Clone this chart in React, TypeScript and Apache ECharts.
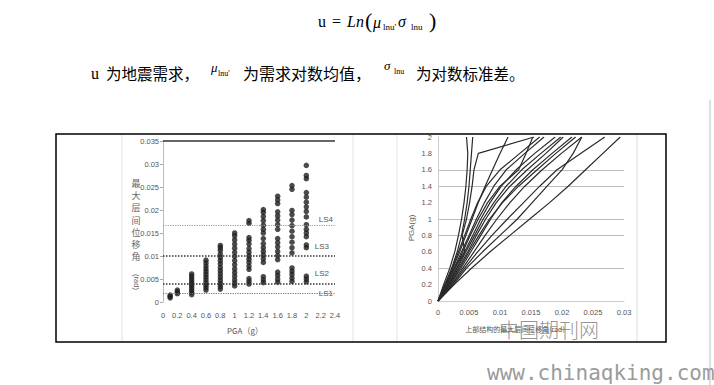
import React, { useEffect, useRef } from "react";
import * as echarts from "echarts";

// ---- Left chart: max inter-storey drift vs PGA (scatter) ----
const scatterPGA = [0.1, 0.2, 0.4, 0.6, 0.8, 1.0, 1.2, 1.4, 1.6, 1.8, 2.0];
const scatterDrift: number[][] = [
  [0.0009, 0.0012, 0.0015],
  [0.0018, 0.0022, 0.0026],
  [0.0016, 0.0021, 0.0026, 0.0031, 0.0036, 0.0041, 0.0046, 0.0051, 0.0056, 0.0061],
  [0.0026, 0.0031, 0.0036, 0.0042, 0.0048, 0.0054, 0.006, 0.0066, 0.0072, 0.0078, 0.0085, 0.0091],
  [0.0028, 0.0034, 0.004, 0.0047, 0.0054, 0.0061, 0.0068, 0.0075, 0.0083, 0.009, 0.0097, 0.0104, 0.0112, 0.0118, 0.0123],
  [0.0035, 0.0041, 0.0048, 0.0056, 0.0064, 0.0072, 0.0081, 0.009, 0.0099, 0.0108, 0.0117, 0.0126, 0.0135, 0.0144, 0.015],
  [0.0039, 0.0045, 0.0051, 0.0071, 0.0078, 0.0086, 0.0093, 0.01, 0.0108, 0.0116, 0.0126, 0.0134, 0.014, 0.0171, 0.0177],
  [0.0042, 0.0048, 0.0055, 0.0086, 0.0094, 0.0102, 0.011, 0.0118, 0.0127, 0.0138, 0.015, 0.0158, 0.0167, 0.0177, 0.0186, 0.0195, 0.0201],
  [0.0043, 0.005, 0.0058, 0.0065, 0.0092, 0.0101, 0.011, 0.012, 0.0129, 0.0138, 0.0158, 0.0168, 0.0178, 0.0187, 0.0196, 0.0214, 0.0222, 0.023],
  [0.0045, 0.0052, 0.006, 0.0067, 0.0074, 0.0107, 0.0118, 0.013, 0.0142, 0.0154, 0.0166, 0.0178, 0.019, 0.0199, 0.0245, 0.0253],
  [0.0044, 0.005, 0.0056, 0.0118, 0.0124, 0.0142, 0.015, 0.0158, 0.0168, 0.0185, 0.0197, 0.0207, 0.0217, 0.0228, 0.0238, 0.0268, 0.0275, 0.0297],
];
const limitNames = ["LS1", "LS2", "LS3", "LS4"];
const limitValues = [0.0018, 0.004, 0.01, 0.0167];
const leftTop = 0.035;

// ---- Right chart: IDA curves (drift, PGA) ----
const idaPGA = [0, 0.2, 0.4, 0.6, 0.8, 1.0, 1.2, 1.4, 1.6, 1.8, 2.0];
const idaDrift: number[][] = [
  [0, 0.0009, 0.0019, 0.0027, 0.0033, 0.0038, 0.0042, 0.0045, 0.0047, 0.0048, 0.0046],
  [0, 0.0011, 0.0022, 0.0031, 0.0038, 0.0043, 0.0047, 0.005, 0.0052, 0.0054, 0.0056],
  [0, 0.0014, 0.0026, 0.0043, 0.0039, 0.0046, 0.0051, 0.0055, 0.0058, 0.0065, 0.0155],
  [0, 0.0012, 0.0024, 0.0035, 0.0045, 0.0055, 0.0065, 0.0076, 0.0088, 0.01, 0.0113],
  [0, 0.0015, 0.0028, 0.004, 0.0052, 0.0065, 0.008, 0.01, 0.013, 0.0142, 0.0153],
  [0, 0.0013, 0.0026, 0.0038, 0.005, 0.0062, 0.0075, 0.009, 0.011, 0.014, 0.0171],
  [0, 0.0016, 0.003, 0.0043, 0.0056, 0.0069, 0.0084, 0.0102, 0.0126, 0.0156, 0.0189],
  [0, 0.0018, 0.0033, 0.0048, 0.0062, 0.0077, 0.0094, 0.0116, 0.0144, 0.0174, 0.0202],
  [0, 0.002, 0.0037, 0.0053, 0.0069, 0.0085, 0.0103, 0.0126, 0.0153, 0.0184, 0.0216],
  [0, 0.0022, 0.004, 0.0058, 0.0076, 0.0095, 0.0116, 0.014, 0.0168, 0.0199, 0.0232],
  [0, 0.0023, 0.0043, 0.0064, 0.0087, 0.0112, 0.0138, 0.0164, 0.0192, 0.023, 0.0269],
  [0, 0.0026, 0.0054, 0.0084, 0.0116, 0.0148, 0.018, 0.021, 0.0238, 0.0266, 0.0294],
  [0, 0.0017, 0.0031, 0.0045, 0.0059, 0.0073, 0.009, 0.011, 0.0135, 0.0166, 0.0198],
  [0, 0.0012, 0.0023, 0.0033, 0.0043, 0.0053, 0.0064, 0.0078, 0.01, 0.0132, 0.0164],
  [0, 0.0019, 0.0035, 0.005, 0.0066, 0.0083, 0.0104, 0.013, 0.016, 0.019, 0.0222],
  [0, 0.0025, 0.0046, 0.0072, 0.01, 0.0128, 0.0152, 0.0176, 0.02, 0.0218, 0.0232],
];

const serif = "Liberation Serif, DejaVu Serif, serif";
const cjk = "Noto Sans CJK SC, sans-serif";
const narrow = "Liberation Sans Narrow, Liberation Sans, sans-serif";

type TxtOpts = { fill?: string; family?: string; italic?: boolean; align?: string; v?: string; rot?: number; weight?: string | number; lh?: number };
const txt = (text: string, x: number, y: number, size: number, o: TxtOpts = {}) => ({
  type: "text",
  x,
  y,
  rotation: o.rot || 0,
  z: 20,
  style: {
    text,
    fill: o.fill || "#000",
    fontSize: size,
    fontFamily: o.family || serif,
    fontStyle: o.italic ? "italic" : "normal",
    fontWeight: o.weight || "normal",
    align: o.align || "left",
    verticalAlign: o.v || "middle",
    lineHeight: o.lh,
  },
});
const vline = (x: number, y1: number, y2: number, color: string, w = 1) => ({
  type: "line",
  z: 5,
  shape: { x1: x, y1, x2: x, y2 },
  style: { stroke: color, lineWidth: w },
});

export default function App() {
  const ref = useRef<HTMLDivElement>(null);
  useEffect(() => {
    const chart = echarts.init(ref.current!, null, { renderer: "svg" });
    const scatterData: number[][] = [];
    scatterPGA.forEach((p, i) => scatterDrift[i].forEach((d) => scatterData.push([p, d])));

    const lsStyles = [
      { color: "#777", width: 1.2, pos: "insideEnd" },
      { color: "#333", width: 1.5, pos: "insideEndTop" },
      { color: "#333", width: 1.5, pos: "insideEndTop" },
      { color: "#999", width: 1.2, pos: "insideEndTop" },
    ];
    const markData: any[] = limitValues.map((v, i) => ({
      yAxis: v,
      lineStyle: { color: lsStyles[i].color, width: lsStyles[i].width, type: "dotted" },
      label: {
        show: true,
        formatter: limitNames[i],
        position: lsStyles[i].pos,
        color: "#555",
        fontSize: 8,
        fontFamily: narrow,
        distance: i === 0 ? 2 : i === 3 ? 2 : 6,
      },
    }));
    markData.push({
      yAxis: leftTop,
      lineStyle: { color: "#333", width: 1.5, type: "solid" },
      label: { show: false },
    });

    const axLabel = { color: "#555", fontSize: 7.5, fontFamily: narrow };
    const rightSplitColors = ["transparent", "transparent", "#bbb", "transparent", "#bbb", "#bbb", "transparent", "#bbb", "#bbb", "transparent", "transparent"];

    const option: any = {
      animation: false,
      backgroundColor: "#fff",
      grid: [
        { left: 163, right: 379, top: 141, bottom: 83 },
        { left: 438, right: 90, top: 137, bottom: 84 },
      ],
      xAxis: [
        {
          gridIndex: 0, type: "value", min: 0, max: 2.4, interval: 0.2,
          axisLine: { show: false }, axisTick: { show: false }, splitLine: { show: false },
          axisLabel: { ...axLabel, margin: 9 },
        },
        {
          gridIndex: 1, type: "value", min: 0, max: 0.03, interval: 0.005,
          axisLine: { show: true, lineStyle: { color: "#ccc" } }, axisTick: { show: false }, splitLine: { show: false },
          axisLabel: { ...axLabel, margin: 7 },
        },
      ],
      yAxis: [
        {
          gridIndex: 0, type: "value", min: 0, max: 0.035, interval: 0.005,
          axisLine: { show: true, lineStyle: { color: "#bbb" } },
          axisTick: { show: true, length: 3, lineStyle: { color: "#aaa" } },
          splitLine: { show: false },
          axisLabel: { ...axLabel, margin: 4 },
        },
        {
          gridIndex: 1, type: "value", min: 0, max: 2, interval: 0.2,
          axisLine: { show: true, lineStyle: { color: "#ccc" } }, axisTick: { show: false },
          splitLine: { show: true, lineStyle: { color: rightSplitColors, width: 1 } },
          axisLabel: { ...axLabel, margin: 6 },
        },
      ],
      series: [
        {
          type: "scatter",
          xAxisIndex: 0,
          yAxisIndex: 0,
          data: scatterData,
          symbol: "circle",
          symbolSize: 5.5,
          itemStyle: { color: "#1e1e1e" },
          markLine: { silent: true, symbol: "none", precision: 5, data: markData },
        },
        ...idaDrift.map((curve) => ({
          type: "line",
          xAxisIndex: 1,
          yAxisIndex: 1,
          data: idaPGA.map((p, i) => [curve[i], p]),
          symbol: "none",
          lineStyle: { color: "#2a2a2a", width: 1.2 },
        })),
      ],
      graphic: [
        // formula
        txt("u", 318, 21, 16),
        txt("=", 332, 21, 16),
        txt("Ln", 347, 21, 16, { italic: true }),
        txt("(", 365, 20, 22),
        txt("μ", 373, 22, 16, { italic: true }),
        txt("lnu'", 383, 27, 9),
        txt("σ", 398, 21, 16, { italic: true }),
        txt("lnu", 411, 27, 9),
        txt(")", 429, 20, 22),
        // paragraph
        txt("u", 91, 73, 16),
        txt("为地震需求，", 106, 73, 15.5, { family: cjk }),
        txt("μ", 211, 67, 13, { italic: true }),
        txt("lnu'", 218, 73, 8),
        txt("为需求对数均值，", 243, 73, 16, { family: cjk }),
        txt("σ", 384, 65, 13, { italic: true }),
        txt("lnu", 394, 71, 8),
        txt("为对数标准差。", 416, 73, 15.5, { family: cjk }),
        // frame
        {
          type: "rect", z: 15,
          shape: { x: 56, y: 134, width: 610, height: 208 },
          style: { fill: "none", stroke: "#000", lineWidth: 1.5 },
        },
        vline(122, 135, 341, "#e2e2e2"),
        vline(353, 135, 341, "#e2e2e2"),
        vline(397, 135, 341, "#e2e2e2"),
        vline(637, 135, 341, "#dcdcdc"),
        vline(710, 100, 385, "#dedede", 2),
        // axis titles
        txt("最\n大\n层\n间\n位\n移\n角", 136, 177, 9, { family: cjk, align: "center", v: "top", fill: "#666", lh: 12.3 }),
        txt("(rad)", 136, 282, 7.5, { family: narrow, align: "center", fill: "#666", rot: -Math.PI / 2 }),
        txt("PGA（g）", 245, 330, 8, { family: cjk, align: "center", fill: "#555" }),
        txt("PGA(g)", 411, 228, 8, { family: narrow, align: "center", fill: "#555", rot: Math.PI / 2 }),
        txt("上部结构的最大层间位移角(rad)", 515, 329, 7, { family: cjk, align: "center", fill: "#555" }),
        // watermarks
        txt("中国期刊网", 549, 329.5, 20, { family: cjk, align: "center", fill: "rgba(120,120,120,0.8)", weight: 300 }),
        txt("www.chinaqking.com", 487, 373, 21, { family: "DejaVu Sans Mono, monospace", fill: "#9b9b9b" }),
      ],
    };
    chart.setOption(option);
    return () => chart.dispose();
  }, []);
  return (
    <div
      ref={ref}
      style={{ position: "absolute", left: 0, top: 0, width: 714, height: 385, background: "#fff" }}
    />
  );
}
